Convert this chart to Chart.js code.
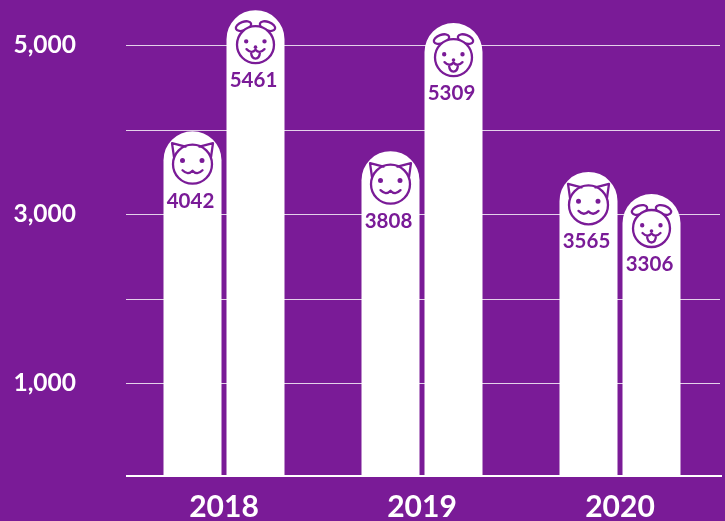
<!DOCTYPE html>
<html>
<head>
<meta charset="utf-8">
<style>
  html, body { margin: 0; padding: 0; background: #7a1b97; overflow: hidden; }
  canvas { display: block; }
</style>
<script src="https://cdn.jsdelivr.net/npm/chart.js@4"></script>
</head>
<body>
<canvas id="petChart" width="725" height="521"></canvas>
<script>
const years = ['2018', '2019', '2020'];
const cats = [4042, 3808, 3565];
const dogs = [5461, 5309, 3306];
const gridValues = [1000, 2000, 3000, 4000, 5000];
const shownTicks = { 1000: '1,000', 3000: '3,000', 5000: '5,000' };

const purple = '#7a1b97';
const labelFont = 'Lato, sans-serif';

const barStyle = {
  backgroundColor: '#ffffff',
  borderWidth: 0,
  borderSkipped: 'bottom',
  borderRadius: { topLeft: 29, topRight: 29 },
  categoryPercentage: 126 / 198,
  barPercentage: 58 / 63,
  yAxisID: 'bars'
};

function drawCat(ctx, x, y) {
  ctx.save();
  ctx.translate(x, y);
  ctx.strokeStyle = purple;
  ctx.fillStyle = purple;
  ctx.lineWidth = 2.3;
  ctx.lineJoin = 'round';
  ctx.lineCap = 'round';
  // ears
  ctx.beginPath();
  ctx.moveTo(-18.5, -7);
  ctx.lineTo(-20.5, -21);
  ctx.lineTo(-7, -17.5);
  ctx.moveTo(18.5, -7);
  ctx.lineTo(20.5, -21);
  ctx.lineTo(7, -17.5);
  ctx.stroke();
  ctx.beginPath();
  ctx.arc(0, 0, 19.5, 0, Math.PI * 2);
  ctx.stroke();
  // eyes
  ctx.beginPath();
  ctx.arc(-10, -3.7, 2.5, 0, Math.PI * 2);
  ctx.arc(9.5, -3.7, 2.5, 0, Math.PI * 2);
  ctx.fill();
  // mouth
  ctx.beginPath();
  ctx.moveTo(-10, 6);
  ctx.quadraticCurveTo(-4.5, 11.5, 0, 6.5);
  ctx.quadraticCurveTo(4.5, 11.5, 10, 6);
  ctx.stroke();
  ctx.restore();
}

function drawDog(ctx, x, y) {
  ctx.save();
  ctx.translate(x, y);
  ctx.strokeStyle = purple;
  ctx.fillStyle = purple;
  ctx.lineWidth = 2.3;
  ctx.lineCap = 'round';
  // ears sit behind the head
  ctx.beginPath();
  ctx.ellipse(-12, -18.5, 8, 4.3, -0.35, 0, Math.PI * 2);
  ctx.stroke();
  ctx.beginPath();
  ctx.ellipse(12, -18.5, 8, 4.3, 0.35, 0, Math.PI * 2);
  ctx.stroke();
  ctx.beginPath();
  ctx.arc(0, 0, 18.5, 0, Math.PI * 2);
  ctx.fillStyle = '#ffffff';
  ctx.fill();
  ctx.stroke();
  ctx.fillStyle = purple;
  // eyes and nose
  ctx.beginPath();
  ctx.arc(-9.3, -3.3, 2.2, 0, Math.PI * 2);
  ctx.arc(9, -3.3, 2.2, 0, Math.PI * 2);
  ctx.fill();
  ctx.beginPath();
  ctx.arc(0, 2.5, 1.8, 0, Math.PI * 2);
  ctx.fill();
  // mouth and tongue
  ctx.beginPath();
  ctx.moveTo(-9, 4.5);
  ctx.quadraticCurveTo(-4, 9.5, 0, 5);
  ctx.quadraticCurveTo(4, 9.5, 9, 4.5);
  ctx.moveTo(-4.5, 7.5);
  ctx.quadraticCurveTo(-4, 14, 0, 14);
  ctx.quadraticCurveTo(4, 14, 4.5, 7.5);
  ctx.stroke();
  ctx.restore();
}

// hand-ruled grid so the lines can run past the category band
const gridPlugin = {
  id: 'gridLines',
  beforeDatasetsDraw(chart) {
    const ctx = chart.ctx;
    const y = chart.scales.y;
    ctx.save();
    ctx.strokeStyle = 'rgba(255,255,255,0.8)';
    ctx.lineWidth = 1;
    gridValues.forEach(v => {
      const py = Math.round(y.getPixelForValue(v)) + 0.5;
      ctx.beginPath();
      ctx.moveTo(126, py);
      ctx.lineTo(720, py);
      ctx.stroke();
    });
    ctx.restore();
  },
  afterDatasetsDraw(chart) {
    const ctx = chart.ctx;
    ctx.save();
    ctx.strokeStyle = '#ffffff';
    ctx.lineWidth = 2;
    ctx.beginPath();
    ctx.moveTo(126, chart.chartArea.bottom);
    ctx.lineTo(722, chart.chartArea.bottom);
    ctx.stroke();
    ctx.restore();
  }
};

const badgePlugin = {
  id: 'badges',
  afterDatasetsDraw(chart) {
    const ctx = chart.ctx;
    chart.data.datasets.forEach((ds, i) => {
      chart.getDatasetMeta(i).data.forEach((bar, j) => {
        if (i === 0) drawCat(ctx, bar.x, bar.y + 33);
        else drawDog(ctx, bar.x, bar.y + 34.5);
        ctx.save();
        ctx.fillStyle = purple;
        ctx.font = '700 20.5px ' + labelFont;
        ctx.textAlign = 'center';
        ctx.textBaseline = 'middle';
        ctx.fillText(String(ds.data[j]), bar.x - 2, bar.y + 70);
        ctx.restore();
      });
    });
  }
};

// the axes keep their label sizes out of the plot area
function noPadding(scale) {
  scale.paddingTop = 0;
  scale.paddingBottom = 0;
  scale.paddingLeft = 0;
  scale.paddingRight = 0;
}

new Chart(document.getElementById('petChart'), {
  type: 'bar',
  data: {
    labels: years,
    datasets: [
      { label: 'Cats', data: cats, ...barStyle },
      { label: 'Dogs', data: dogs, ...barStyle }
    ]
  },
  options: {
    responsive: false,
    animation: false,
    layout: { padding: { left: 0, right: 6, top: 0, bottom: 0 } },
    plugins: { legend: { display: false }, tooltip: { enabled: false } },
    scales: {
      x: {
        grid: { display: false },
        border: { display: false },
        ticks: {
          color: '#ffffff',
          font: { family: labelFont, size: 30, weight: '700' },
          padding: 5,
          maxRotation: 0
        },
        afterFit(scale) { scale.height = 45; noPadding(scale); }
      },
      y: {
        min: -100.7,
        max: 5539,
        grid: { display: false },
        border: { display: false },
        afterBuildTicks(scale) { scale.ticks = gridValues.map(v => ({ value: v })); },
        ticks: {
          color: '#ffffff',
          font: { family: labelFont, size: 24.5, weight: '700' },
          padding: 41,
          callback: v => shownTicks[v] || ''
        },
        afterFit(scale) { scale.width = 125; noPadding(scale); }
      },
      // the bars stand on the baseline while the printed grid sits a little higher
      bars: {
        display: false,
        min: 0,
        max: 5580
      }
    }
  },
  plugins: [gridPlugin, badgePlugin]
});
</script>
</body>
</html>
